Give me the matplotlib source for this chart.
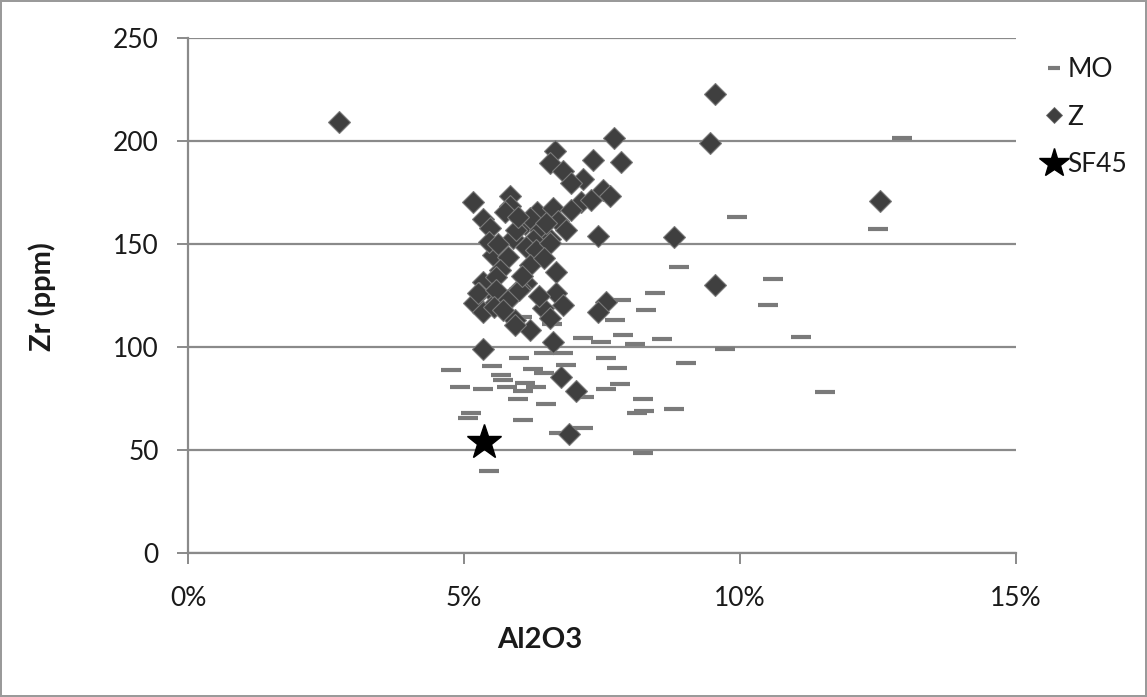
import matplotlib
matplotlib.use("Agg")
import matplotlib.pyplot as plt
from matplotlib.lines import Line2D
from matplotlib.ticker import FuncFormatter

# MO samples: Al2O3 (%) and Zr (ppm)
mo_al2o3 = [12.94, 9.94, 12.50, 8.89, 10.59, 8.46, 10.50, 8.29, 7.85, 7.73,
            7.88, 8.59, 8.10, 9.72, 11.10, 9.02, 11.54, 8.81, 8.24, 8.26,
            8.14, 8.24, 7.57, 7.78, 7.83, 7.57, 7.15, 7.48, 6.45, 6.80,
            5.99, 4.77, 5.50, 6.25, 6.85, 6.45, 5.67, 5.71, 6.10, 4.93,
            5.34, 5.78, 6.31, 6.07, 7.18, 5.98, 6.49, 5.13, 5.07, 6.07,
            6.73, 7.15, 5.46, 6.05, 6.60]
mo_zr = [201.6, 163.3, 157.5, 138.8, 133.0, 126.1, 120.2, 117.9, 122.6, 113.2,
         106.0, 103.9, 101.5, 99.2, 105.0, 92.2, 78.2, 70.1, 74.8, 69.0,
         67.8, 48.4, 94.5, 89.8, 81.8, 79.5, 104.2, 102.2, 97.0, 97.0,
         94.5, 88.8, 90.6, 89.2, 91.3, 87.2, 86.4, 84.0, 82.4, 80.6,
         79.5, 80.8, 80.8, 78.8, 75.9, 74.7, 72.5, 67.8, 65.4, 64.4,
         58.4, 60.6, 39.8, 114.7, 111.0]

# Z samples: Al2O3 (%) and Zr (ppm)
z_al2o3 = [2.73, 9.55, 9.46, 12.54, 8.80, 9.55, 7.72, 6.64, 7.33, 7.85,
           6.56, 6.80, 7.15, 6.94, 7.51, 7.65, 5.16, 5.84, 5.84, 5.34,
           5.74, 6.33, 6.61, 7.12, 7.30, 6.94, 5.47, 6.10, 6.37, 6.70,
           6.85, 7.43, 5.89, 6.55, 6.25, 5.52, 5.80, 6.13, 6.31, 6.55,
           5.65, 6.19, 6.67, 5.34, 5.58, 6.13, 5.28, 5.52, 5.83, 6.01,
           5.19, 5.52, 5.34, 6.67, 6.79, 6.43, 6.55, 5.92, 6.19, 5.92,
           7.57, 7.42, 6.61, 5.34, 6.76, 7.03, 6.91, 5.25, 5.58, 5.80,
           6.00, 5.55, 5.95, 6.45, 5.45, 6.20, 5.62, 6.05, 5.70, 6.35,
           6.48, 5.98]
z_zr = [209.1, 222.9, 198.9, 170.9, 153.6, 130.1, 201.5, 195.0, 190.8, 189.8,
        189.5, 185.5, 181.7, 179.5, 176.3, 173.5, 170.3, 173.2, 168.5, 162.0,
        165.7, 165.7, 167.7, 170.5, 171.4, 166.5, 157.6, 159.6, 156.8, 161.2,
        156.8, 154.0, 152.8, 152.4, 152.0, 144.7, 143.8, 148.7, 147.0, 150.3,
        137.4, 139.8, 136.2, 131.7, 134.1, 130.9, 126.1, 126.1, 123.6, 128.5,
        121.2, 120.4, 117.1, 126.1, 120.4, 118.8, 113.9, 113.1, 108.3, 110.7,
        122.0, 116.8, 102.6, 98.8, 85.6, 78.8, 57.6, 126.0, 127.7, 122.8,
        127.7, 119.6, 157.0, 143.0, 151.0, 162.5, 150.0, 134.5, 118.0, 125.0,
        160.0, 163.0]

# SF45 sample
sf45_al2o3 = [5.37]
sf45_zr = [54.0]

y_ticks = [0, 50, 100, 150, 200, 250]
x_ticks = [0, 5, 10, 15]

plt.rcParams["font.family"] = ["Lato", "DejaVu Sans"]

W, H = 1147, 697
fig = plt.figure(figsize=(W / 100, H / 100), dpi=100)
fig.patch.set_facecolor("white")
fig.patch.set_edgecolor("#9a9a9a")
fig.patch.set_linewidth(1.5)

ax = fig.add_axes([188 / W, 1 - 553 / H, 828 / W, 515 / H])

grid_c = "#8a8a8a"
for yv in y_ticks:
    ax.axhline(yv, color=grid_c, lw=1.6, zorder=1)

ax.plot(mo_al2o3, mo_zr, ls="none", marker="_", ms=14.5, mew=3.0,
        color="#7a7a7a", zorder=2)
ax.plot(z_al2o3, z_zr, ls="none", marker="D", ms=11, mfc="#3f3f3f",
        mec="#7a7a7a", mew=0.8, zorder=3)
ax.plot(sf45_al2o3, sf45_zr, ls="none", marker="*", ms=26, color="black",
        zorder=4)

ax.set_xlim(0, 15)
ax.set_ylim(0, 250)
ax.set_xticks(x_ticks)
ax.set_yticks(y_ticks)
ax.xaxis.set_major_formatter(FuncFormatter(lambda v, p: f"{v:.0f}%"))

for s in ("top", "right"):
    ax.spines[s].set_visible(False)
for s in ("left", "bottom"):
    ax.spines[s].set_color(grid_c)
    ax.spines[s].set_linewidth(1.6)

ax.tick_params(axis="both", direction="out", length=8, width=1.4,
               color=grid_c, labelsize=19, labelcolor="#1a1a1a")
ax.tick_params(axis="y", pad=13)
ax.tick_params(axis="x", pad=16)

fig.text(42 / W, 1 - 297 / H, "Zr (ppm)", rotation=90, ha="center",
         va="center", fontsize=21, fontweight="bold", color="#1a1a1a")
fig.text(540 / W, 1 - 640 / H, "Al2O3", ha="center", va="center",
         fontsize=21, fontweight="bold", color="#1a1a1a")

handles = [
    Line2D([], [], ls="none", marker="_", ms=9, mew=3.0, color="#7a7a7a"),
    Line2D([], [], ls="none", marker="D", ms=8, mfc="#3f3f3f", mec="#6a6a6a",
           mew=0.6),
    Line2D([], [], ls="none", marker="*", ms=22, color="black"),
]
fig.legend(handles, ["MO", "Z", "SF45"], loc="upper left",
           bbox_to_anchor=(1029 / W, 1 - 44 / H), frameon=False,
           fontsize=19, handlelength=0.9, handletextpad=0.05,
           labelspacing=0.85, borderpad=0, labelcolor="#1a1a1a")

fig.savefig("out.png", dpi=100, facecolor=fig.get_facecolor(),
            edgecolor=fig.get_edgecolor())
